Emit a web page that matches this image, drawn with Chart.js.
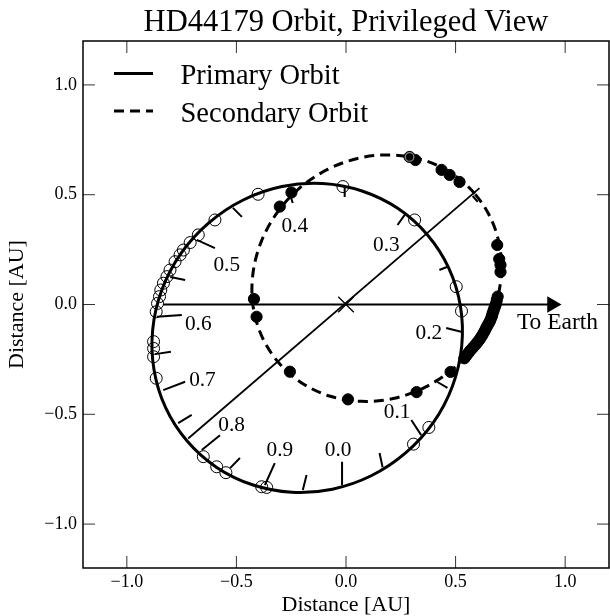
<!DOCTYPE html>
<html><head><meta charset="utf-8">
<script src="https://cdn.jsdelivr.net/npm/chart.js@4/dist/chart.umd.min.js"></script>
<style>html,body{margin:0;padding:0;background:#fff}canvas{display:block}</style>
</head><body>
<canvas id="c" width="610" height="616"></canvas>
<script>
// ---------- data ----------
const titleText = 'HD44179 Orbit, Privileged View';
const axisTitle = 'Distance [AU]';
const legendLabels = ['Primary Orbit', 'Secondary Orbit'];
const xTickValues = [-1.0, -0.5, 0.0, 0.5, 1.0];
const yTickValues = [-1.0, -0.5, 0.0, 0.5, 1.0];

// primary orbit (solid), read around the curve
const primaryX = [0.371,0.236,0.073,-0.107,-0.292,-0.469,-0.626,-0.753,-0.840,-0.882,-0.876,-0.823,-0.725,-0.590,-0.427,-0.247,-0.062,0.115,0.272,0.399,0.486,0.528,0.522,0.469];
const primaryY = [0.318,0.438,0.517,0.551,0.537,0.476,0.372,0.233,0.067,-0.114,-0.297,-0.470,-0.622,-0.742,-0.821,-0.855,-0.841,-0.780,-0.676,-0.537,-0.371,-0.190,-0.007,0.166];
// secondary orbit (dashed)
const secondaryX = [0.588,0.482,0.352,0.208,0.060,-0.084,-0.212,-0.315,-0.388,-0.425,-0.424,-0.384,-0.308,-0.202,-0.072,0.072,0.221,0.364,0.492,0.595,0.668,0.705,0.704,0.664];
const secondaryY = [0.504,0.597,0.658,0.681,0.667,0.615,0.530,0.417,0.283,0.138,-0.008,-0.145,-0.264,-0.357,-0.418,-0.441,-0.427,-0.375,-0.290,-0.177,-0.043,0.102,0.248,0.385];

// observed positions, secondary (filled)
const secDotX = [0.290,0.317,0.436,0.473,0.518,0.690,0.699,0.705,0.705,0.692,0.688,0.685,0.681,0.677,0.673,0.669,0.666,0.662,0.657,0.651,0.645,0.639,0.633,0.627,0.620,0.613,0.606,0.598,0.591,0.583,0.575,0.566,0.559,0.551,0.545,0.540,0.477,0.322,0.009,-0.256,-0.408,-0.420,-0.302,-0.249];
const secDotY = [0.672,0.658,0.613,0.590,0.558,0.271,0.207,0.180,0.148,0.036,0.020,0.005,-0.006,-0.017,-0.029,-0.040,-0.052,-0.063,-0.075,-0.086,-0.097,-0.108,-0.120,-0.131,-0.143,-0.154,-0.164,-0.174,-0.183,-0.192,-0.201,-0.210,-0.220,-0.230,-0.238,-0.245,-0.307,-0.399,-0.432,-0.306,-0.056,0.025,0.446,0.510];
// observed positions, primary (open)
const priDotX = [-0.401,-0.014,0.313,0.503,0.527,-0.598,-0.674,-0.711,-0.742,-0.757,-0.780,-0.803,-0.817,-0.833,-0.845,-0.851,-0.860,-0.866,-0.878,-0.878,-0.878,-0.866,-0.651,-0.590,-0.548,-0.385,-0.362,0.308,0.378];
const priDotY = [0.502,0.537,0.385,0.081,-0.030,0.385,0.317,0.282,0.248,0.226,0.195,0.157,0.127,0.097,0.066,0.036,0.005,-0.033,-0.169,-0.200,-0.238,-0.336,-0.693,-0.739,-0.766,-0.830,-0.833,-0.636,-0.560];
// highlighted point (grey ring)
const ringX = [0.290];
const ringY = [0.672];

// phase ticks on the primary orbit (outer end on orbit, inner end)
const phaseTickOuterX = [-0.018,0.167,0.343,0.463,0.525,0.463,0.268,-0.006,-0.265,-0.516,-0.681,-0.802,-0.863,-0.871,-0.834,-0.766,-0.658,-0.529,-0.370,-0.197];
const phaseTickOuterY = [-0.823,-0.741,-0.595,-0.380,-0.124,0.172,0.408,0.535,0.531,0.440,0.294,0.125,-0.056,-0.226,-0.390,-0.540,-0.663,-0.745,-0.822,-0.845];
const phaseTickInnerX = [-0.018,0.153,0.298,0.417,0.457,0.426,0.235,-0.006,-0.243,-0.475,-0.598,-0.734,-0.749,-0.799,-0.734,-0.704,-0.575,-0.484,-0.325,-0.180];
const phaseTickInnerY = [-0.716,-0.676,-0.526,-0.353,-0.107,0.157,0.362,0.490,0.462,0.399,0.257,0.112,-0.048,-0.215,-0.352,-0.503,-0.595,-0.699,-0.722,-0.777];
const phaseLabels = ['0.0','0.1','0.2','0.3','0.4','0.5','0.6','0.7','0.8','0.9'];
const phaseLabelX = [-0.036,0.233,0.378,0.184,-0.234,-0.544,-0.674,-0.655,-0.522,-0.302];
const phaseLabelY = [-0.663,-0.492,-0.131,0.270,0.355,0.176,-0.090,-0.344,-0.549,-0.666];

// small tick on the secondary orbit at the end of the apsides line
const apsisTickX = [0.578, 0.601];
const apsisTickY = [0.494, 0.468];
// line of apsides
const apsidesX = [-0.720, 0.609];
const apsidesY = [-0.610, 0.530];
// arrow to Earth
const arrowX = [-0.834, 0.94];
const arrowY = [0, 0];
const arrowHeadX = [0.94];
const arrowHeadY = [0];
const earthLabel = 'To Earth';
const earthLabelX = [0.965];
const earthLabelY = [-0.084];
// centre of mass
const comX = [0];
const comY = [0];

// ---------- helpers ----------
const pts = (xs, ys) => xs.map((v, i) => ({x: v, y: ys[i]}));
const closed = (xs, ys) => { const p = pts(xs, ys); return [p[p.length - 1], ...p, p[0], p[1]]; };
const segs = (ax, ay, bx, by) => { const out = []; ax.forEach((v, i) => { out.push({x: v, y: ay[i]}, {x: bx[i], y: by[i]}, {x: null, y: null}); }); return out; };
const hideEnds = n => ({ borderColor: c => (c.p0DataIndex === 0 || c.p1DataIndex === n - 1) ? 'rgba(0,0,0,0)' : '#000' });
const fmt = v => (v < 0 ? '\u2212' : '') + Math.abs(v).toFixed(1);

const primaryData = closed(primaryX, primaryY);
const secondaryData = closed(secondaryX, secondaryY);
const FONT = '"Liberation Serif", "Times New Roman", serif';
Chart.defaults.font.family = FONT;

const overlay = {
  id: 'overlay',
  afterDraw(chart) {
    const {ctx, chartArea: a, scales: {x, y}} = chart;
    ctx.save();
    // inward ticks on all four sides
    ctx.strokeStyle = '#333'; ctx.lineWidth = 1;
    const L = 12;
    ctx.beginPath();
    xTickValues.forEach(v => { const p = x.getPixelForValue(v); ctx.moveTo(p, a.bottom); ctx.lineTo(p, a.bottom - L); ctx.moveTo(p, a.top); ctx.lineTo(p, a.top + L); });
    yTickValues.forEach(v => { const p = y.getPixelForValue(v); ctx.moveTo(a.left, p); ctx.lineTo(a.left + L, p); ctx.moveTo(a.right, p); ctx.lineTo(a.right - L, p); });
    ctx.stroke();
    // frame
    ctx.strokeStyle = '#000'; ctx.lineWidth = 1.5;
    ctx.strokeRect(a.left, a.top, a.right - a.left, a.bottom - a.top);
    // title
    ctx.fillStyle = '#000';
    ctx.font = '30.5px ' + FONT; ctx.textAlign = 'center'; ctx.textBaseline = 'alphabetic';
    ctx.fillText(titleText, (a.left + a.right) / 2, 30.5);
    // phase labels
    ctx.font = '21.3px ' + FONT; ctx.textBaseline = 'middle';
    phaseLabels.forEach((t, i) => ctx.fillText(t, x.getPixelForValue(phaseLabelX[i]), y.getPixelForValue(phaseLabelY[i])));
    // earth label
    ctx.font = '23.5px ' + FONT;
    ctx.fillText(earthLabel, x.getPixelForValue(earthLabelX[0]), y.getPixelForValue(earthLabelY[0]));
    // legend
    const ds = chart.data.datasets;
    const items = [ds.find(d => d.label === legendLabels[0]), ds.find(d => d.label === legendLabels[1])];
    const rowY = [73.5, 111];
    items.forEach((d, i) => {
      ctx.strokeStyle = '#000'; ctx.lineWidth = d.borderWidth;
      ctx.setLineDash(d.borderDash || []);
      ctx.beginPath(); ctx.moveTo(a.left + 31, rowY[i]); ctx.lineTo(a.left + 70, rowY[i]); ctx.stroke();
      ctx.setLineDash([]);
      ctx.font = '28.5px ' + FONT; ctx.textAlign = 'left'; ctx.textBaseline = 'alphabetic';
      ctx.fillText(d.label, a.left + 97.5, rowY[i] + 10.5);
    });
    ctx.restore();
  }
};

new Chart(document.getElementById('c'), {
  type: 'scatter',
  data: {
    datasets: [
      { label: 'ring', data: pts(ringX, ringY), pointRadius: 4.3, pointBackgroundColor: 'rgba(0,0,0,0)', pointBorderColor: '#8a8a8a', pointBorderWidth: 1.2 },
      { label: 'secondary points', data: pts(secDotX, secDotY), pointRadius: 5.6, pointBackgroundColor: '#000', pointBorderColor: '#000', pointBorderWidth: 1 },
      { label: 'primary points', data: pts(priDotX, priDotY), pointRadius: 6, pointBackgroundColor: 'rgba(0,0,0,0)', pointBorderColor: '#000', pointBorderWidth: 1 },
      { label: 'centre of mass', data: pts(comX, comY), pointStyle: 'crossRot', pointRadius: 11, pointBorderColor: '#000', pointBorderWidth: 1.3 },
      { label: 'arrow head', data: pts(arrowHeadX, arrowHeadY), pointStyle: 'triangle', rotation: 90, pointRadius: 9.5, pointBackgroundColor: '#000', pointBorderColor: '#000', pointBorderWidth: 0 },
      { label: 'arrow', data: pts(arrowX, arrowY), showLine: true, borderColor: '#000', borderWidth: 2, pointRadius: 0 },
      { label: 'apsides', data: pts(apsidesX, apsidesY), showLine: true, borderColor: '#000', borderWidth: 1.8, pointRadius: 0 },
      { label: 'apsis tick', data: pts(apsisTickX, apsisTickY), showLine: true, borderColor: '#000', borderWidth: 2, pointRadius: 0 },
      { label: 'phase ticks', data: segs(phaseTickOuterX, phaseTickOuterY, phaseTickInnerX, phaseTickInnerY), showLine: true, spanGaps: false, borderColor: '#000', borderWidth: 2, pointRadius: 0 },
      { label: legendLabels[1], data: secondaryData, showLine: true, tension: 0.34, borderColor: '#000', borderWidth: 3, borderDash: [10, 6], pointRadius: 0, segment: hideEnds(secondaryData.length) },
      { label: legendLabels[0], data: primaryData, showLine: true, tension: 0.34, borderColor: '#000', borderWidth: 3, pointRadius: 0, segment: hideEnds(primaryData.length) }
    ]
  },
  options: {
    responsive: false,
    animation: false,
    layout: { autoPadding: false, padding: { top: 41, right: 1, bottom: 0, left: 0 } },
    plugins: { legend: { display: false }, tooltip: { enabled: false }, title: { display: false } },
    scales: {
      x: {
        type: 'linear', position: 'bottom', min: -1.2, max: 1.2,
        afterBuildTicks: s => { s.ticks = xTickValues.map(v => ({ value: v })); },
        afterFit: s => { s.height = 48; s.paddingLeft = 0; s.paddingRight = 0; },
        grid: { display: false, drawTicks: false },
        border: { display: false },
        ticks: { color: '#000', font: { size: 18, lineHeight: 1 }, padding: 5, maxRotation: 0, autoSkip: false, callback: v => fmt(v) },
        title: { display: true, text: axisTitle, color: '#000', font: { size: 22, lineHeight: 1 }, padding: { top: 0, bottom: 0 } }
      },
      y: {
        type: 'linear', position: 'left', min: -1.2, max: 1.2,
        afterBuildTicks: s => { s.ticks = yTickValues.map(v => ({ value: v })); },
        afterFit: s => { s.width = 83; s.paddingTop = 0; s.paddingBottom = 0; },
        grid: { display: false, drawTicks: false },
        border: { display: false },
        ticks: { color: '#000', font: { size: 18, lineHeight: 1 }, padding: 6, autoSkip: false, callback: v => fmt(v) },
        title: { display: true, text: axisTitle, color: '#000', font: { size: 22, lineHeight: 1 }, padding: { top: 6, bottom: 0 } }
      }
    }
  },
  plugins: [overlay]
});
</script>
</body></html>
